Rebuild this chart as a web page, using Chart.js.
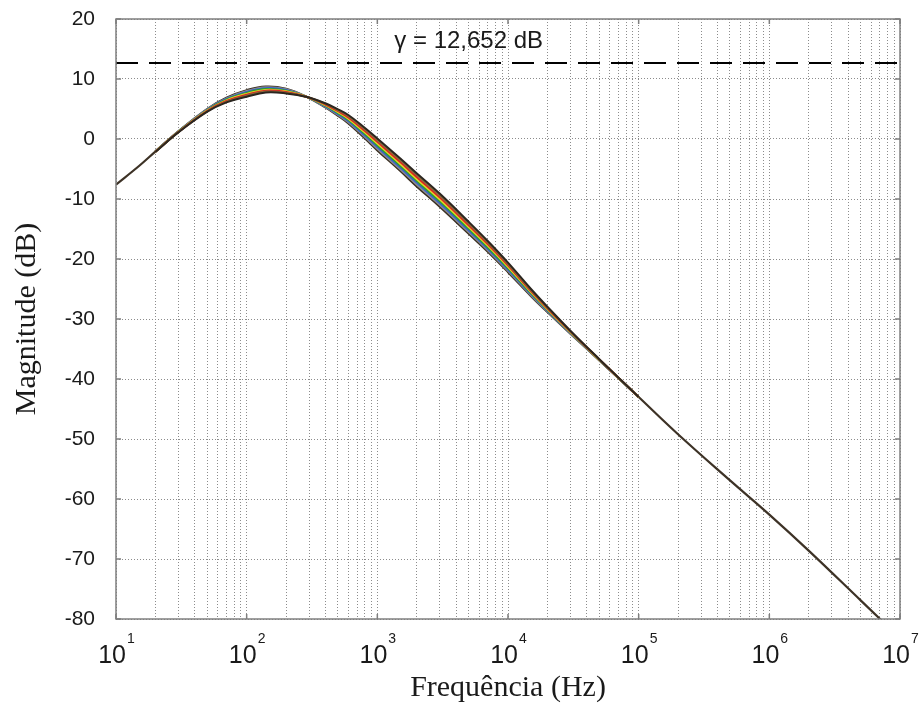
<!DOCTYPE html>
<html>
<head>
<meta charset="utf-8">
<script src="https://cdn.jsdelivr.net/npm/chart.js@4.4.1/dist/chart.umd.min.js"></script>
<style>
  html, body { margin: 0; padding: 0; background: #fff; }
  #wrap { width: 920px; height: 706px; }
</style>
</head>
<body>
<div id="wrap"><canvas id="chart" width="920" height="706"></canvas></div>
<script>
// nominal response (Hz / dB)
const freqMain = [10, 15, 20, 30, 50, 70, 100, 140, 200, 290, 400, 500, 600, 800, 1000, 1500, 2000, 3000, 5000, 7000,
  10000, 15000, 20000, 30000, 50000, 100000, 200000, 500000, 1000000, 2000000, 5000000, 10000000];
const magMain = [-7.6, -4.5, -2.1, 1.2, 4.8, 6.5, 7.6, 8.25, 8.0, 7.0, 5.6, 4.4, 3.3, 1.0, -0.9, -4.3, -6.8, -10.2, -14.8, -17.9,
  -21.4, -25.6, -28.4, -32.2, -36.8, -43.0, -49.2, -56.9, -62.6, -68.6, -76.9, -83.2];

// bundle of perturbed responses (they only separate between ~50 Hz and ~50 kHz)
const freqBundle = [20, 30, 50, 70, 100, 140, 200, 290, 400, 500, 600, 800, 1000, 1500, 2000, 3000, 5000, 7000,
  10000, 15000, 20000, 30000, 50000, 100000];
const magRun1 = [-2.15, 1.10, 4.55, 6.10, 7.05, 7.75, 7.60, 7.0, 5.95, 4.95, 4.00, 1.88, 0.10, -3.25, -5.70, -9.10, -13.80, -17.00, -20.60, -25.00, -27.95, -31.95, -36.70, -43.0];
const magRun2 = [-2.14, 1.13, 4.62, 6.22, 7.21, 7.90, 7.72, 7.0, 5.85, 4.79, 3.80, 1.62, -0.19, -3.55, -6.02, -9.42, -14.09, -17.26, -20.83, -25.17, -28.08, -32.02, -36.73, -43.0];
const magRun3 = [-2.12, 1.16, 4.69, 6.33, 7.36, 8.04, 7.83, 7.0, 5.75, 4.64, 3.60, 1.38, -0.47, -3.85, -6.33, -9.73, -14.37, -17.51, -21.06, -25.34, -28.21, -32.09, -36.76, -43.0];
const magRun4 = [-2.11, 1.19, 4.77, 6.44, 7.52, 8.18, 7.94, 7.0, 5.65, 4.48, 3.40, 1.12, -0.76, -4.15, -6.65, -10.05, -14.66, -17.77, -21.29, -25.52, -28.34, -32.17, -36.79, -43.0];
const magRun5 = [-2.09, 1.21, 4.84, 6.56, 7.68, 8.32, 8.06, 7.0, 5.55, 4.32, 3.20, 0.88, -1.04, -4.45, -6.95, -10.35, -14.94, -18.03, -21.51, -25.68, -28.46, -32.23, -36.81, -43.0];
const magRun6 = [-2.08, 1.24, 4.91, 6.67, 7.84, 8.47, 8.17, 7.0, 5.45, 4.16, 3.00, 0.62, -1.33, -4.75, -7.27, -10.67, -15.23, -18.29, -21.74, -25.86, -28.59, -32.31, -36.84, -43.0];
const magRun7 = [-2.06, 1.27, 4.98, 6.78, 7.99, 8.61, 8.28, 7.0, 5.35, 4.01, 2.80, 0.38, -1.61, -5.05, -7.58, -10.98, -15.51, -18.54, -21.97, -26.03, -28.72, -32.38, -36.87, -43.0];
const magRun8 = [-2.05, 1.30, 5.05, 6.90, 8.15, 8.75, 8.40, 7.0, 5.25, 3.85, 2.60, 0.12, -1.90, -5.35, -7.90, -11.30, -15.80, -18.80, -22.20, -26.20, -28.85, -32.45, -36.90, -43.0];
const runColors = ['#2b2620', '#8a6a3a', '#e02020', '#e6d52a', '#2aa02a', '#3a5fcd', '#8c8c8c', '#3b2f22'];

// gamma limit line
const gammaDb = 12.652;
const gammaLabel = 'γ = 12,652 dB';
const gammaLabelFreq = 5000;

// axes
const xDecades = [1, 2, 3, 4, 5, 6, 7];
const yMin = -80, yMax = 20, yStep = 10;

const sansFont = '"Liberation Sans", Arial, Helvetica, sans-serif';
const serifFont = '"Liberation Serif", "Times New Roman", Times, serif';

function toPoints(xs, ys) {
  return xs.map((f, i) => ({ x: f, y: ys[i] }));
}

const runs = [magRun1, magRun2, magRun3, magRun4, magRun5, magRun6, magRun7, magRun8];

const datasets = [];
datasets.push({
  label: 'gamma',
  data: toPoints([Math.pow(10, xDecades[0]), Math.pow(10, xDecades[xDecades.length - 1])], [gammaDb, gammaDb]),
  borderColor: '#000',
  borderWidth: 2,
  borderDash: [22, 11],
  pointRadius: 0,
  tension: 0
});
runs.forEach((r, i) => {
  datasets.push({
    label: 'run' + (i + 1),
    data: toPoints(freqBundle, r),
    borderColor: runColors[i],
    borderWidth: 2,
    pointRadius: 0,
    tension: 0.4
  });
});
datasets.push({
  label: 'nominal',
  data: toPoints(freqMain, magMain),
  borderColor: '#3d3226',
  borderWidth: 2.2,
  pointRadius: 0,
  tension: 0.4,
  clip: 0
});

// frame, inward ticks, x decade labels and the gamma label
const decorations = {
  id: 'decorations',
  afterDraw(chart) {
    const { ctx, chartArea: a, scales: { x, y } } = chart;
    ctx.save();
    ctx.strokeStyle = '#7f7f7f';
    ctx.lineWidth = 1.5;
    ctx.strokeRect(a.left, a.top, a.right - a.left, a.bottom - a.top);

    ctx.beginPath();
    for (let v = yMin; v <= yMax; v += yStep) {
      const py = y.getPixelForValue(v);
      ctx.moveTo(a.left, py); ctx.lineTo(a.left + 5, py);
      ctx.moveTo(a.right, py); ctx.lineTo(a.right - 5, py);
    }
    xDecades.forEach(e => {
      const px = x.getPixelForValue(Math.pow(10, e));
      ctx.moveTo(px, a.bottom); ctx.lineTo(px, a.bottom - 5);
      ctx.moveTo(px, a.top); ctx.lineTo(px, a.top + 5);
    });
    ctx.stroke();

    ctx.fillStyle = '#1a1a1a';
    ctx.textBaseline = 'alphabetic';
    xDecades.forEach(e => {
      const px = x.getPixelForValue(Math.pow(10, e));
      ctx.font = '25px ' + sansFont;
      ctx.textAlign = 'right';
      ctx.fillText('10', px + 10, a.bottom + 44);
      ctx.font = '14px ' + sansFont;
      ctx.textAlign = 'left';
      ctx.fillText(String(e), px + 11, a.bottom + 24);
    });

    ctx.font = '24px ' + sansFont;
    ctx.textAlign = 'center';
    ctx.fillText(gammaLabel, x.getPixelForValue(gammaLabelFreq), y.getPixelForValue(gammaDb) - 15);
    ctx.restore();
  }
};

new Chart(document.getElementById('chart'), {
  type: 'line',
  data: { datasets: datasets },
  options: {
    responsive: false,
    animation: false,
    layout: { padding: { top: 19, right: 20, left: 0, bottom: 0 } },
    plugins: { legend: { display: false }, tooltip: { enabled: false } },
    scales: {
      x: {
        type: 'logarithmic',
        min: Math.pow(10, xDecades[0]),
        max: Math.pow(10, xDecades[xDecades.length - 1]),
        afterBuildTicks(scale) {
          const t = [];
          for (let e = xDecades[0]; e < xDecades[xDecades.length - 1]; e++) {
            for (let m = 1; m < 10; m++) t.push({ value: m * Math.pow(10, e) });
          }
          t.push({ value: Math.pow(10, xDecades[xDecades.length - 1]) });
          scale.ticks = t;
        },
        afterFit(scale) {
          scale.height = 87;
          scale.paddingLeft = 0;
          scale.paddingRight = 0;
        },
        grid: { color: '#8c8c8c', lineWidth: 1, drawTicks: false },
        border: { display: false, dash: [1, 2] },
        ticks: { display: false },
        title: {
          display: true,
          text: 'Frequência (Hz)',
          color: '#1a1a1a',
          font: { family: serifFont, size: 30 },
          padding: { top: 0, bottom: 0 }
        }
      },
      y: {
        type: 'linear',
        min: yMin,
        max: yMax,
        afterFit(scale) {
          scale.width = 116;
          scale.paddingTop = 0;
          scale.paddingBottom = 0;
        },
        ticks: {
          stepSize: yStep,
          padding: 21,
          color: '#1a1a1a',
          font: { family: sansFont, size: 21 }
        },
        grid: { color: '#8c8c8c', lineWidth: 1, drawTicks: false },
        border: { display: false, dash: [1, 2] },
        title: {
          display: true,
          text: 'Magnitude (dB)',
          color: '#1a1a1a',
          font: { family: serifFont, size: 30 },
          padding: { top: 9, bottom: 0 }
        }
      }
    }
  },
  plugins: [decorations]
});
</script>
</body>
</html>
